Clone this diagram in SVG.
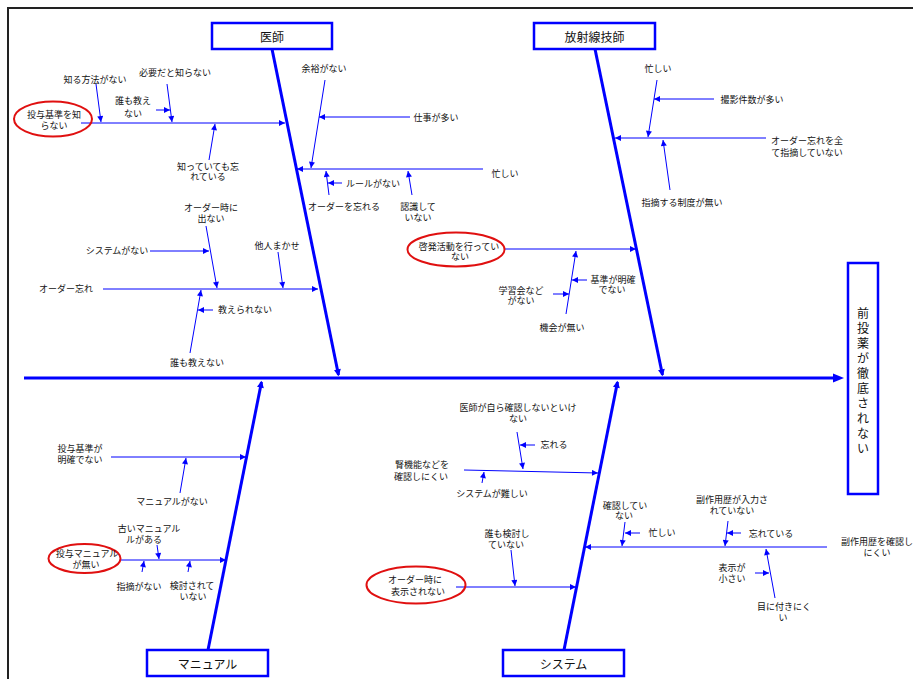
<svg xmlns="http://www.w3.org/2000/svg" width="913" height="679" viewBox="0 0 913 679">
<style>
.t{font-family:"Noto Sans CJK JP","Noto Sans",sans-serif;font-size:9px;fill:#111;text-anchor:middle;dominant-baseline:central}
.b{font-family:"Noto Sans CJK JP","Noto Sans",sans-serif;font-size:12px;fill:#111;text-anchor:middle;dominant-baseline:central}
.box{fill:#fff;stroke:#0000ff;stroke-width:2.5}
.el{fill:none;stroke:#e01010;stroke-width:2}
.c{stroke:#0000ff;stroke-width:1;fill:none;marker-end:url(#a)}
.bone{stroke:#0000ff;stroke-width:3;fill:none;marker-end:url(#ab)}
</style>
<defs>
<marker id="a" viewBox="0 0 10 10" refX="10" refY="5" markerWidth="7" markerHeight="6" markerUnits="userSpaceOnUse" orient="auto"><path d="M0,0L10,5L0,10z" fill="#0000ff"/></marker>
<marker id="ab" viewBox="0 0 10 10" refX="8" refY="5" markerWidth="9" markerHeight="7" markerUnits="userSpaceOnUse" orient="auto"><path d="M0,0L10,5L0,10z" fill="#0000ff"/></marker>
</defs>
<rect width="913" height="679" fill="#fff"/>
<path d="M8,679V8H913" fill="none" stroke="#222" stroke-width="2"/>

<g id="connectors">
<line class="bone" x1="272" y1="49" x2="338.5" y2="375"/>
<line class="bone" x1="595" y1="49" x2="662.5" y2="375"/>
<line class="bone" x1="208" y1="650" x2="261.5" y2="382"/>
<line class="bone" x1="564" y1="650" x2="617.5" y2="382"/>
<line x1="24" y1="378" x2="836" y2="378" stroke="#0000ff" stroke-width="3"/>
<polygon points="833,373.5 844,378 833,382.5" fill="#0000ff"/>

<line class="c" x1="81" y1="123" x2="285" y2="123"/>
<line class="c" x1="96" y1="84" x2="101" y2="122"/>
<line class="c" x1="167" y1="84" x2="172" y2="122"/>
<line class="c" x1="156" y1="110" x2="170" y2="110"/>
<line class="c" x1="209" y1="160" x2="215" y2="124"/>
<line class="c" x1="325" y1="80" x2="311" y2="168"/>
<line class="c" x1="410" y1="117" x2="319" y2="117"/>
<line class="c" x1="483" y1="169" x2="297" y2="169"/>
<line class="c" x1="342" y1="183" x2="328" y2="183"/>
<line class="c" x1="329" y1="195" x2="326" y2="171"/>
<line class="c" x1="412" y1="195" x2="408" y2="171"/>
<line class="c" x1="103" y1="289" x2="318" y2="289"/>
<line class="c" x1="206" y1="226" x2="217" y2="288"/>
<line class="c" x1="150" y1="251" x2="209" y2="251"/>
<line class="c" x1="278" y1="252" x2="283" y2="288"/>
<line class="c" x1="190" y1="353" x2="201" y2="290"/>
<line class="c" x1="213" y1="310" x2="198" y2="310"/>

<line class="c" x1="657" y1="80" x2="648" y2="137"/>
<line class="c" x1="714" y1="99" x2="654" y2="99"/>
<line class="c" x1="766" y1="138" x2="615" y2="138"/>
<line class="c" x1="670" y1="190" x2="663" y2="140"/>
<line class="c" x1="505" y1="249" x2="636" y2="249"/>
<line class="c" x1="566" y1="314" x2="576" y2="251"/>
<line class="c" x1="587" y1="280" x2="572" y2="280"/>
<line class="c" x1="553" y1="294" x2="569" y2="294"/>

<line class="c" x1="111" y1="457" x2="246" y2="457"/>
<line class="c" x1="180" y1="493" x2="186" y2="458"/>
<line class="c" x1="121" y1="560" x2="226" y2="560"/>
<line class="c" x1="157" y1="545" x2="159" y2="559"/>
<line class="c" x1="142" y1="572" x2="144" y2="561"/>
<line class="c" x1="188" y1="572" x2="190" y2="561"/>

<line class="c" x1="464" y1="470" x2="598" y2="473"/>
<line class="c" x1="517" y1="432" x2="523" y2="469"/>
<line class="c" x1="535" y1="445" x2="520" y2="445"/>
<line class="c" x1="482" y1="483" x2="484" y2="472"/>
<line class="c" x1="456" y1="587" x2="576" y2="587"/>
<line class="c" x1="511" y1="550" x2="515" y2="586"/>
<line class="c" x1="827" y1="547" x2="585" y2="547"/>
<line class="c" x1="625" y1="522" x2="622" y2="546"/>
<line class="c" x1="640" y1="533" x2="625" y2="533"/>
<line class="c" x1="728" y1="521" x2="725" y2="546"/>
<line class="c" x1="741" y1="533" x2="727" y2="533"/>
<line class="c" x1="755" y1="573" x2="769" y2="573"/>
<line class="c" x1="775" y1="598" x2="766" y2="549"/>
</g>

<g id="n-ishi"><rect class="box" x="212" y="23" width="120" height="26"/><text class="b" x="272" y="36">医師</text></g>
<g id="n-hoshasen"><rect class="box" x="534" y="23" width="121" height="26"/><text class="b" x="594.5" y="36">放射線技師</text></g>
<g id="n-manual"><rect class="box" x="147" y="650" width="121" height="26"/><text class="b" x="207.5" y="663">マニュアル</text></g>
<g id="n-system"><rect class="box" x="503" y="650" width="121" height="26"/><text class="b" x="563.5" y="663">システム</text></g>
<g id="n-effect"><rect class="box" x="848" y="263" width="30" height="231"/>
<text class="b"><tspan x="863" y="312">前</tspan><tspan x="863" y="327">投</tspan><tspan x="863" y="342">薬</tspan><tspan x="863" y="357">が</tspan><tspan x="863" y="372">徹</tspan><tspan x="863" y="387">底</tspan><tspan x="863" y="402">さ</tspan><tspan x="863" y="417">れ</tspan><tspan x="863" y="432">な</tspan><tspan x="863" y="447">い</tspan></text></g>

<g id="n-toyokijun"><ellipse class="el" cx="53" cy="119" rx="39" ry="17.5"/><text class="t"><tspan x="54" y="114">投与基準を知</tspan><tspan x="54" y="125">らない</tspan></text></g>
<g id="n-shiruhoho"><text class="t" x="95" y="79">知る方法がない</text></g>
<g id="n-hitsuyo"><text class="t" x="175" y="72">必要だと知らない</text></g>
<g id="n-daremo1"><text class="t"><tspan x="133" y="100">誰も教え</tspan><tspan x="133" y="113">ない</tspan></text></g>
<g id="n-shittemo"><text class="t"><tspan x="208" y="166">知っていても忘</tspan><tspan x="208" y="176">れている</tspan></text></g>
<g id="n-yoyu"><text class="t" x="324" y="68">余裕がない</text></g>
<g id="n-shigoto"><text class="t" x="436" y="117">仕事が多い</text></g>
<g id="n-isogashii1"><text class="t" x="505" y="173">忙しい</text></g>
<g id="n-rule"><text class="t" x="373" y="183">ルールがない</text></g>
<g id="n-orderwasureru"><text class="t" x="344" y="206">オーダーを忘れる</text></g>
<g id="n-ninshiki"><text class="t"><tspan x="418" y="206">認識して</tspan><tspan x="418" y="217">いない</tspan></text></g>
<g id="n-orderwasure"><text class="t" x="66" y="288">オーダー忘れ</text></g>
<g id="n-orderji"><text class="t"><tspan x="211" y="207">オーダー時に</tspan><tspan x="211" y="218">出ない</tspan></text></g>
<g id="n-systemnai"><text class="t" x="117" y="250">システムがない</text></g>
<g id="n-tanin"><text class="t" x="277" y="245">他人まかせ</text></g>
<g id="n-daremo2"><text class="t" x="197" y="362">誰も教えない</text></g>
<g id="n-oshierarenai"><text class="t" x="245" y="309">教えられない</text></g>

<g id="n-isogashii2"><text class="t" x="658" y="68">忙しい</text></g>
<g id="n-satsuei"><text class="t" x="752" y="99">撮影件数が多い</text></g>
<g id="n-shiteki"><text class="t"><tspan x="807" y="140">オーダー忘れを全</tspan><tspan x="807" y="152">て指摘していない</tspan></text></g>
<g id="n-seido"><text class="t" x="682" y="202">指摘する制度が無い</text></g>
<g id="n-keihatsu"><ellipse class="el" cx="456" cy="249.5" rx="48.5" ry="17"/><text class="t"><tspan x="459" y="246">啓発活動を行ってい</tspan><tspan x="460" y="256">ない</tspan></text></g>
<g id="n-kikai"><text class="t" x="562" y="327">機会が無い</text></g>
<g id="n-kijunmeikaku"><text class="t"><tspan x="613" y="279">基準が明確</tspan><tspan x="612" y="289">でない</tspan></text></g>
<g id="n-gakushu"><text class="t"><tspan x="521" y="290">学習会など</tspan><tspan x="521" y="300">がない</tspan></text></g>

<g id="n-toyokijun2"><text class="t"><tspan x="80" y="448">投与基準が</tspan><tspan x="80" y="459">明確でない</tspan></text></g>
<g id="n-manualnai"><text class="t" x="172" y="501">マニュアルがない</text></g>
<g id="n-toyomanual"><ellipse class="el" cx="84.5" cy="558.5" rx="36" ry="14.5"/><text class="t"><tspan x="87" y="553">投与マニュアル</tspan><tspan x="86" y="564">が無い</tspan></text></g>
<g id="n-furui"><text class="t"><tspan x="149" y="528">古いマニュアル</tspan><tspan x="144" y="539">ルがある</tspan></text></g>
<g id="n-shitekinai"><text class="t" x="139" y="586">指摘がない</text></g>
<g id="n-kento"><text class="t"><tspan x="192" y="585">検討されて</tspan><tspan x="193" y="596">いない</tspan></text></g>

<g id="n-jinkino"><text class="t"><tspan x="422" y="464">腎機能などを</tspan><tspan x="421" y="476">確認しにくい</tspan></text></g>
<g id="n-ishimizukara"><text class="t"><tspan x="518" y="407">医師が自ら確認しないといけ</tspan><tspan x="518" y="418">ない</tspan></text></g>
<g id="n-wasureru"><text class="t" x="554" y="444">忘れる</text></g>
<g id="n-systemmuzu"><text class="t" x="492" y="493">システムが難しい</text></g>
<g id="n-orderhyoji"><ellipse class="el" cx="416" cy="585" rx="49.5" ry="18.5"/><text class="t"><tspan x="415" y="579">オーダー時に</tspan><tspan x="418" y="591">表示されない</tspan></text></g>
<g id="n-daremokento"><text class="t"><tspan x="507" y="533">誰も検討し</tspan><tspan x="506" y="544">ていない</tspan></text></g>
<g id="n-fukusayo"><text class="t"><tspan x="877" y="541">副作用歴を確認し</tspan><tspan x="877" y="552">にくい</tspan></text></g>
<g id="n-kakunin"><text class="t"><tspan x="625" y="505">確認してい</tspan><tspan x="624" y="515">ない</tspan></text></g>
<g id="n-isogashii3"><text class="t" x="662" y="532">忙しい</text></g>
<g id="n-nyuryoku"><text class="t"><tspan x="732" y="499">副作用歴が入力さ</tspan><tspan x="732" y="510">れていない</tspan></text></g>
<g id="n-wasureteiru"><text class="t" x="771" y="533">忘れている</text></g>
<g id="n-hyojichiisai"><text class="t"><tspan x="732" y="567">表示が</tspan><tspan x="732" y="578">小さい</tspan></text></g>
<g id="n-menitsuki"><text class="t"><tspan x="784" y="606">目に付きにく</tspan><tspan x="783" y="617">い</tspan></text></g>
</svg>
